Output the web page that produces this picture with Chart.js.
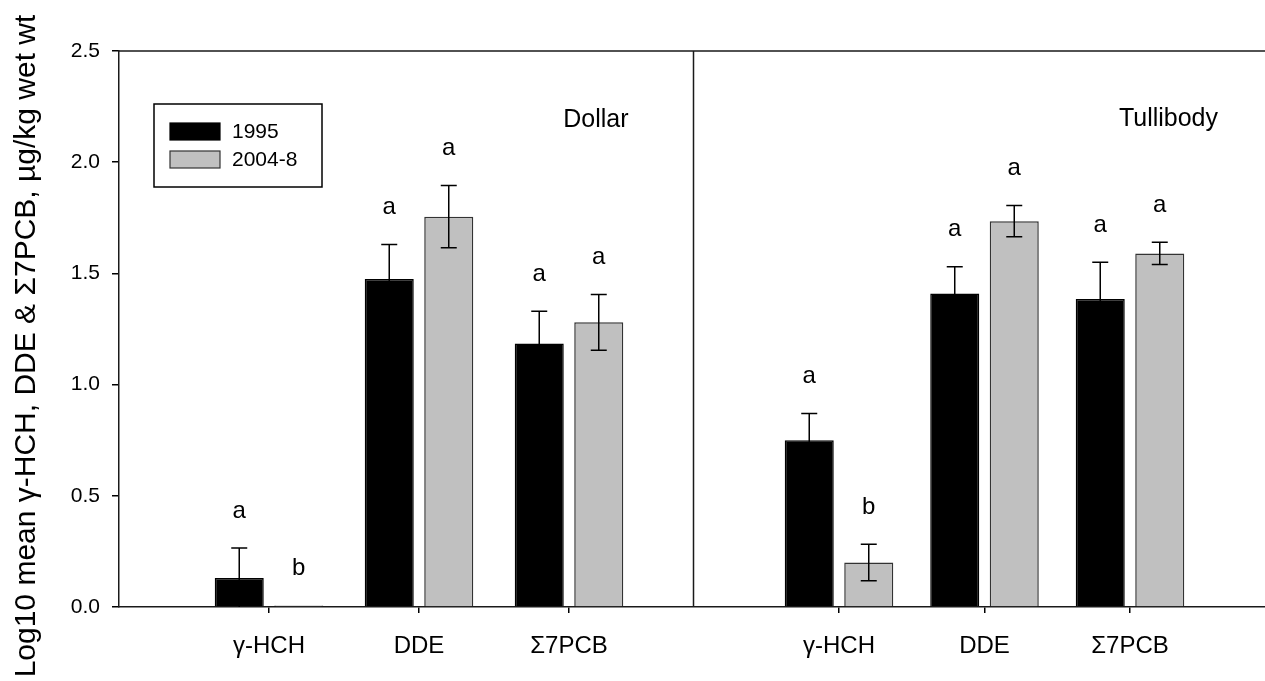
<!DOCTYPE html>
<html><head><meta charset="utf-8">
<script src="https://cdn.jsdelivr.net/npm/chart.js@4.4.1/dist/chart.umd.min.js"></script>
<style>html,body{margin:0;padding:0;background:#fff;overflow:hidden;} #wrap{width:1265px;height:681px;position:relative;}</style>
</head><body><div id="wrap"><canvas id="c" width="1265" height="681"></canvas></div>
<script>
const categories = ['γ-HCH', 'DDE', 'Σ7PCB', 'γ-HCH', 'DDE', 'Σ7PCB'];
const groupPos = [1, 2, 3, 4.8, 5.77, 6.74];
const panelDivider = 3.83;
const xMax = 7.64;
const sites = ['Dollar', 'Tullibody'];
const seriesNames = ['1995', '2004-8'];
const mean1995 = [0.13, 1.475, 1.185, 0.75, 1.41, 1.385];
const err1995 = [0.135, 0.155, 0.145, 0.12, 0.12, 0.165];
const mean2004 = [0.007, 1.755, 1.28, 0.20, 1.735, 1.59];
const err2004 = [0, 0.14, 0.125, 0.082, 0.07, 0.05];
const letters1995 = ['a', 'a', 'a', 'a', 'a', 'a'];
const letters2004 = ['b', 'a', 'a', 'b', 'a', 'a'];
const yTicks = [0, 0.5, 1.0, 1.5, 2.0, 2.5];
const yTitle = 'Log10 mean γ-HCH, DDE & Σ7PCB, µg/kg wet wt';

const FONT = '"Liberation Sans", Arial, Helvetica, sans-serif';
Chart.defaults.color = '#000';
Chart.defaults.font.family = FONT;

const decor = {
  id: 'decor',
  afterDatasetsDraw(chart) {
    const {ctx, chartArea: a, scales: {x, y}} = chart;
    ctx.save();
    ctx.strokeStyle = '#1a1a1a';
    ctx.lineWidth = 1.5;
    const xd = x.getPixelForValue(panelDivider);
    ctx.beginPath();
    ctx.moveTo(a.left, a.top); ctx.lineTo(a.right, a.top);
    ctx.moveTo(xd, a.top); ctx.lineTo(xd, a.bottom);
    ctx.stroke();

    chart.data.datasets.forEach((ds, di) => {
      const meta = chart.getDatasetMeta(di);
      meta.data.forEach((bar, i) => {
        const v = ds.data[i].y, e = ds.errors[i];
        const cx = bar.x;
        const yt = y.getPixelForValue(v + e), yb = y.getPixelForValue(Math.max(v - e, 0));
        if (e > 0) {
          ctx.strokeStyle = '#000';
          ctx.lineWidth = 1.5;
          ctx.beginPath();
          ctx.moveTo(cx, yt); ctx.lineTo(cx, yb);
          ctx.moveTo(cx - 8, yt); ctx.lineTo(cx + 8, yt);
          if (v - e > 0) { ctx.moveTo(cx - 8, yb); ctx.lineTo(cx + 8, yb); }
          ctx.stroke();
        }
        ctx.fillStyle = '#000';
        ctx.font = '24px ' + FONT;
        ctx.textAlign = 'center';
        ctx.textBaseline = 'middle';
        ctx.fillText(ds.letters[i], cx, yt - 37);
      });
    });

    ctx.font = '25px ' + FONT;
    ctx.textAlign = 'right';
    ctx.textBaseline = 'middle';
    ctx.fillText(sites[0], xd - 65, a.top + 69);
    ctx.fillText(sites[1], a.right - 47, a.top + 68);

    const lx = a.left + 35, ly = a.top + 53, lw = 168, lh = 83;
    ctx.strokeStyle = '#000';
    ctx.lineWidth = 1.5;
    ctx.strokeRect(lx, ly, lw, lh);
    ctx.font = '21px ' + FONT;
    ctx.textAlign = 'left';
    chart.data.datasets.forEach((ds, di) => {
      const sy = ly + 19 + di * 28;
      ctx.fillStyle = ds.backgroundColor;
      ctx.fillRect(lx + 16, sy, 50, 17);
      ctx.strokeStyle = ds.borderColor;
      ctx.lineWidth = 1.2;
      ctx.strokeRect(lx + 16, sy, 50, 17);
      ctx.fillStyle = '#000';
      ctx.fillText(ds.label, lx + 78, sy + 9);
    });

    ctx.save();
    ctx.translate(27, 346);
    ctx.rotate(-Math.PI / 2);
    ctx.font = '30px ' + FONT;
    ctx.textAlign = 'center';
    ctx.textBaseline = 'middle';
    ctx.fillText(yTitle, 0, 0);
    ctx.restore();

    ctx.restore();
  }
};

new Chart(document.getElementById('c'), {
  type: 'bar',
  data: {
    datasets: [
      {
        label: seriesNames[0],
        data: groupPos.map((p, i) => ({x: p, y: mean1995[i]})),
        backgroundColor: '#000000',
        borderColor: '#000000',
        borderWidth: 1.5,
        categoryPercentage: 0.818,
        barPercentage: 0.824,
        errors: err1995,
        letters: letters1995
      },
      {
        label: seriesNames[1],
        data: groupPos.map((p, i) => ({x: p, y: mean2004[i]})),
        backgroundColor: '#c0c0c0',
        borderColor: '#333333',
        borderWidth: 1.5,
        categoryPercentage: 0.818,
        barPercentage: 0.824,
        errors: err2004,
        letters: letters2004
      }
    ]
  },
  options: {
    responsive: false,
    animation: false,
    layout: {padding: {top: 51, right: 0, bottom: 0, left: 0}},
    plugins: {legend: {display: false}, tooltip: {enabled: false}},
    scales: {
      x: {
        type: 'linear',
        min: 0,
        max: xMax,
        offset: false,
        afterBuildTicks: s => { s.ticks = groupPos.map(v => ({value: v})); },
        afterFit: s => { s.height = 74; },
        ticks: {
          callback: (v, i) => categories[i],
          font: {size: 24, family: FONT},
          color: '#000',
          padding: 19,
          maxRotation: 0,
          autoSkip: false
        },
        grid: {offset: false, drawOnChartArea: false, drawTicks: true, tickLength: 6, color: '#000', lineWidth: 1.5},
        border: {display: true, color: '#1a1a1a', width: 1.5}
      },
      y: {
        min: 0,
        max: 2.5,
        afterBuildTicks: s => { s.ticks = yTicks.map(v => ({value: v})); },
        afterFit: s => { s.width = 119; },
        ticks: {
          callback: v => Number(v).toFixed(1),
          font: {size: 21, family: FONT},
          color: '#000',
          padding: 12
        },
        grid: {drawOnChartArea: false, drawTicks: true, tickLength: 7, color: '#000', lineWidth: 1.5},
        border: {display: true, color: '#1a1a1a', width: 1.5}
      }
    }
  },
  plugins: [decor]
});
</script>
</body></html>
